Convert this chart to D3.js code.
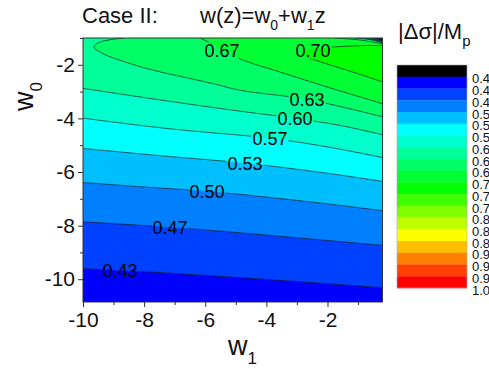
<!DOCTYPE html>
<html>
<head>
<meta charset="utf-8">
<script src="https://cdn.jsdelivr.net/npm/d3@7"></script>
<style>
  body { margin: 0; background: #fff; }
  svg { display: block; font-family: "Liberation Sans", Arial, sans-serif; }
</style>
</head>
<body>
<svg id="chart" width="489" height="369"></svg>
<script>
// contour levels (colour bar boundaries), low -> high
const levels = [0.40, 0.433, 0.467, 0.50, 0.533, 0.567, 0.60, 0.633, 0.667, 0.70,
                0.733, 0.767, 0.80, 0.833, 0.867, 0.90, 0.933, 0.967, 1.00];
const levelLabels = ['0.40', '0.43', '0.47', '0.50', '0.53', '0.57', '0.60', '0.63', '0.67', '0.70',
                     '0.73', '0.77', '0.80', '0.83', '0.87', '0.90', '0.93', '0.97', '1.00'];
const bandColors = ['#000000', '#0000ff', '#0040ff', '#0080ff', '#00bfff', '#00ffff', '#00ffcc',
                    '#00ff99', '#00ff66', '#00ff33', '#00ff00', '#40ff00', '#80ff00', '#bfff00',
                    '#ffff00', '#ffbf00', '#ff8000', '#ff4000', '#ff0000'];

const xTicks = [-10, -8, -6, -4, -2];
const xMinor = [-9, -7, -5, -3, -1];
const yTicks = [-2, -4, -6, -8, -10];
const yMinor = [-1, -3, -5, -7, -9];

// contour lines, points are [w1, w0]
const line043 = [[-10, -9.61], [-7.81, -9.73], [-5.19, -9.92], [-2.57, -10.12], [-0.2, -10.32]];
const line047 = [[-10, -7.86], [-7.15, -8.06], [-4.54, -8.30], [-2.24, -8.53], [-0.2, -8.74]];
const line050 = [[-10, -6.39], [-8.13, -6.55], [-5.94, -6.72], [-3.23, -7.03], [-0.2, -7.44]];
const line053 = [[-10, -5.12], [-7.48, -5.39], [-4.70, -5.67], [-2.24, -6.01], [-0.2, -6.35]];
const line057 = [[-10, -3.99], [-7.15, -4.39], [-3.88, -4.74], [-1.92, -5.08], [-0.2, -5.46]];
const line060 = [[-10, -2.88], [-7.48, -3.31], [-5.19, -3.68], [-3.06, -4.00], [-1.59, -4.26], [-0.2, -4.61]];
const line063 = [[-8.63, -1.0], [-9.44, -1.15], [-9.64, -1.34], [-9.35, -1.58], [-9.02, -1.74], [-7.91, -2.14],
                 [-6.83, -2.43], [-5.75, -2.70], [-4.86, -2.95], [-2.67, -3.29], [-0.2, -3.94]];
const line067 = [[-6.17, -1.0], [-5.45, -1.41], [-4.86, -1.78], [-3.55, -2.27], [-1.92, -2.86], [-0.2, -3.45]];
const line070 = [[-0.2, -1.28], [-0.77, -1.28], [-1.59, -1.32], [-2.31, -1.39], [-2.80, -1.52],
                 [-2.74, -1.67], [-2.31, -1.86], [-1.59, -2.12], [-0.77, -2.42], [-0.2, -2.64]];

// the value drops again in the top right corner
const corner067 = [[-1.75, -1.0], [-0.94, -1.074], [-0.2, -1.22]];
const corner063 = [[-1.10, -1.0], [-0.54, -1.074], [-0.2, -1.19]];
const corner060 = [[-0.84, -1.0], [-0.41, -1.093], [-0.2, -1.17]];
const corner057 = [[-0.67, -1.0], [-0.34, -1.093], [-0.2, -1.15]];
const corner053 = [[-0.58, -1.0], [-0.2, -1.13]];
const corner050 = [[-0.51, -1.0], [-0.2, -1.11]];
const corner047 = [[-0.44, -1.0], [-0.2, -1.093]];
const corner043 = [[-0.37, -1.0], [-0.2, -1.074]];
const corner040 = [[-0.31, -1.0], [-0.2, -1.056]];

const upLines = [
  { level: 0.433, pts: line043 }, { level: 0.467, pts: line047 }, { level: 0.50, pts: line050 },
  { level: 0.533, pts: line053 }, { level: 0.567, pts: line057 }, { level: 0.60, pts: line060 },
  { level: 0.633, pts: line063 }, { level: 0.667, pts: line067 }, { level: 0.70, pts: line070 }
];
const downLines = [
  { level: 0.667, pts: corner067 }, { level: 0.633, pts: corner063 }, { level: 0.60, pts: corner060 },
  { level: 0.567, pts: corner057 }, { level: 0.533, pts: corner053 }, { level: 0.50, pts: corner050 },
  { level: 0.467, pts: corner047 }, { level: 0.433, pts: corner043 }, { level: 0.40, pts: corner040 }
];

const contourLabels = [
  { text: '0.43', w1: -8.79, w0: -9.68 }, { text: '0.47', w1: -7.15, w0: -8.06 },
  { text: '0.50', w1: -5.94, w0: -6.72 }, { text: '0.53', w1: -4.70, w0: -5.67 },
  { text: '0.57', w1: -3.88, w0: -4.74 }, { text: '0.60', w1: -3.06, w0: -4.00 },
  { text: '0.63', w1: -2.67, w0: -3.29 }, { text: '0.67', w1: -5.45, w0: -1.45 },
  { text: '0.70', w1: -2.47, w0: -1.45 }
];

const svg = d3.select('#chart');
const x0 = 83, x1 = 382.5, y0 = 38, y1 = 302;
const x = d3.scaleLinear().domain([-10, -0.2]).range([x0, x1]);
const y = d3.scaleLinear().domain([-1, -10.85]).range([y0, y1]);
const color = d3.scaleThreshold().domain(levels.slice(0, 18)).range(bandColors);

const curve = d3.line().x(d => x(d[0])).y(d => y(d[1])).curve(d3.curveCatmullRom.alpha(0.5));

// position along the frame, running counter-clockwise on screen from bottom-left
function perim(p) {
  const e = 0.6;
  if (Math.abs(p[1] - y1) < e) return (p[0] - x0) / (x1 - x0);
  if (Math.abs(p[0] - x1) < e) return 1 + (y1 - p[1]) / (y1 - y0);
  if (Math.abs(p[1] - y0) < e) return 2 + (x1 - p[0]) / (x1 - x0);
  return 3 + (p[1] - y0) / (y1 - y0);
}
const corners = [[x0, y1], [x1, y1], [x1, y0], [x0, y0]];

function areaPath(pts) {
  const px = pts.map(d => [x(d[0]), y(d[1])]);
  const te = perim(px[px.length - 1]);
  let ts = perim(px[0]);
  if (ts <= te) ts += 4;
  let dstr = curve(pts);
  for (let k = Math.ceil(te); k < ts; k++) {
    const c = corners[k % 4];
    dstr += 'L' + c[0] + ',' + c[1];
  }
  return dstr + 'Z';
}

svg.append('clipPath').attr('id', 'plotclip')
  .append('rect').attr('x', x0).attr('y', y0).attr('width', x1 - x0).attr('height', y1 - y0);

const plot = svg.append('g').attr('clip-path', 'url(#plotclip)');

plot.append('rect')
  .attr('x', x0).attr('y', y0).attr('width', x1 - x0).attr('height', y1 - y0)
  .attr('fill', color(0.41));

plot.selectAll('.band-up')
  .data(upLines)
  .join('path')
  .attr('class', 'band-up')
  .attr('d', d => areaPath(d.pts))
  .attr('fill', d => color(d.level));

plot.selectAll('.band-down')
  .data(downLines)
  .join('path')
  .attr('class', 'band-down')
  .attr('d', d => areaPath(d.pts))
  .attr('fill', d => color(d.level - 0.01));

// labels first so their boxes can cut the lines
const labelG = svg.append('g');
const labels = labelG.selectAll('text')
  .data(contourLabels)
  .join('text')
  .attr('x', d => x(d.w1))
  .attr('y', d => y(d.w0))
  .attr('dy', '0.36em')
  .attr('text-anchor', 'middle')
  .style('font-size', '18px')
  .attr('fill', '#000')
  .text(d => d.text);

const mask = svg.append('mask').attr('id', 'labelmask');
mask.append('rect').attr('x', 0).attr('y', 0).attr('width', 489).attr('height', 369).attr('fill', '#fff');
labels.each(function() {
  const b = this.getBBox();
  mask.append('rect')
    .attr('x', b.x - 1).attr('y', b.y + 2).attr('width', b.width + 2).attr('height', b.height - 4)
    .attr('fill', '#000');
});

const lineG = plot.append('g').attr('mask', 'url(#labelmask)');
lineG.selectAll('path')
  .data(upLines.concat(downLines))
  .join('path')
  .attr('d', d => curve(d.pts))
  .attr('fill', 'none')
  .attr('stroke', '#1a1a1a')
  .attr('stroke-opacity', 0.85)
  .attr('stroke-width', 0.8);

labelG.raise();

// frame
svg.append('rect')
  .attr('x', x0).attr('y', y0).attr('width', x1 - x0).attr('height', y1 - y0)
  .attr('fill', 'none').attr('stroke', '#333').attr('stroke-width', 1);

function styleAxis(g) {
  g.select('.domain').remove();
  g.selectAll('line').attr('stroke', '#333');
  g.selectAll('text').style('font-size', '21px').attr('fill', '#111').style('font-family', '"Liberation Sans", Arial, sans-serif');
}

const plain = d => String(d);
svg.append('g').attr('transform', `translate(0,${y1})`)
  .call(d3.axisBottom(x).tickValues(xTicks).tickSize(5).tickPadding(5).tickFormat(plain))
  .call(styleAxis);
svg.append('g').attr('transform', `translate(0,${y1})`)
  .call(d3.axisBottom(x).tickValues(xMinor).tickSize(3).tickFormat(''))
  .call(styleAxis);
svg.append('g').attr('transform', `translate(${x0},0)`)
  .call(d3.axisLeft(y).tickValues(yTicks).tickSize(5).tickPadding(3).tickFormat(plain))
  .call(styleAxis);
svg.append('g').attr('transform', `translate(${x0},0)`)
  .call(d3.axisLeft(y).tickValues(yMinor).tickSize(3).tickFormat(''))
  .call(styleAxis);

// axis titles
const xt = svg.append('text').attr('x', 228).attr('y', 355).style('font-size', '27px').attr('fill', '#111');
xt.append('tspan').text('w');
xt.append('tspan').attr('dy', 9).style('font-size', '17px').text('1');

const yt = svg.append('text').attr('transform', 'translate(33,111) rotate(-90)').style('font-size', '27px').attr('fill', '#111');
yt.append('tspan').text('w');
yt.append('tspan').attr('dy', 9).style('font-size', '17px').text('0');

// title
svg.append('text').attr('x', 82).attr('y', 23).style('font-size', '22px').attr('fill', '#111').text('Case II:');
const ft = svg.append('text').attr('x', 200).attr('y', 23).style('font-size', '22px').attr('fill', '#111');
ft.append('tspan').text('w(z)=w');
ft.append('tspan').attr('dy', 7).style('font-size', '14px').text('0');
ft.append('tspan').attr('dy', -7).text('+w');
ft.append('tspan').attr('dy', 7).style('font-size', '14px').text('1');
ft.append('tspan').attr('dy', -7).text('z');

// colour bar
const barY = d3.scaleLinear().domain([0, bandColors.length]).range([65, 288]);
const bar = svg.append('g');
bar.selectAll('rect')
  .data(bandColors)
  .join('rect')
  .attr('x', 397).attr('width', 70)
  .attr('y', (d, i) => barY(i))
  .attr('height', (d, i) => barY(i + 1) - barY(i) + 0.3)
  .attr('fill', d => d);
bar.append('rect').attr('x', 397).attr('y', 65).attr('width', 70).attr('height', 223)
  .attr('fill', 'none').attr('stroke', '#aaa').attr('stroke-width', 0.6);
bar.selectAll('.cbl')
  .data(levelLabels)
  .join('text')
  .attr('class', 'cbl')
  .attr('x', 472)
  .attr('y', (d, i) => barY(i + 1) + 2)
  .attr('dy', '0.36em')
  .style('font-size', '13px')
  .attr('fill', '#111')
  .text(d => d);

const ct = svg.append('text').attr('x', 398).attr('y', 39).style('font-size', '22px').attr('fill', '#111');
ct.append('tspan').text('|\u0394\u03c3|/M');
ct.append('tspan').attr('dy', 7).style('font-size', '15px').text('p');
</script>
</body>
</html>
